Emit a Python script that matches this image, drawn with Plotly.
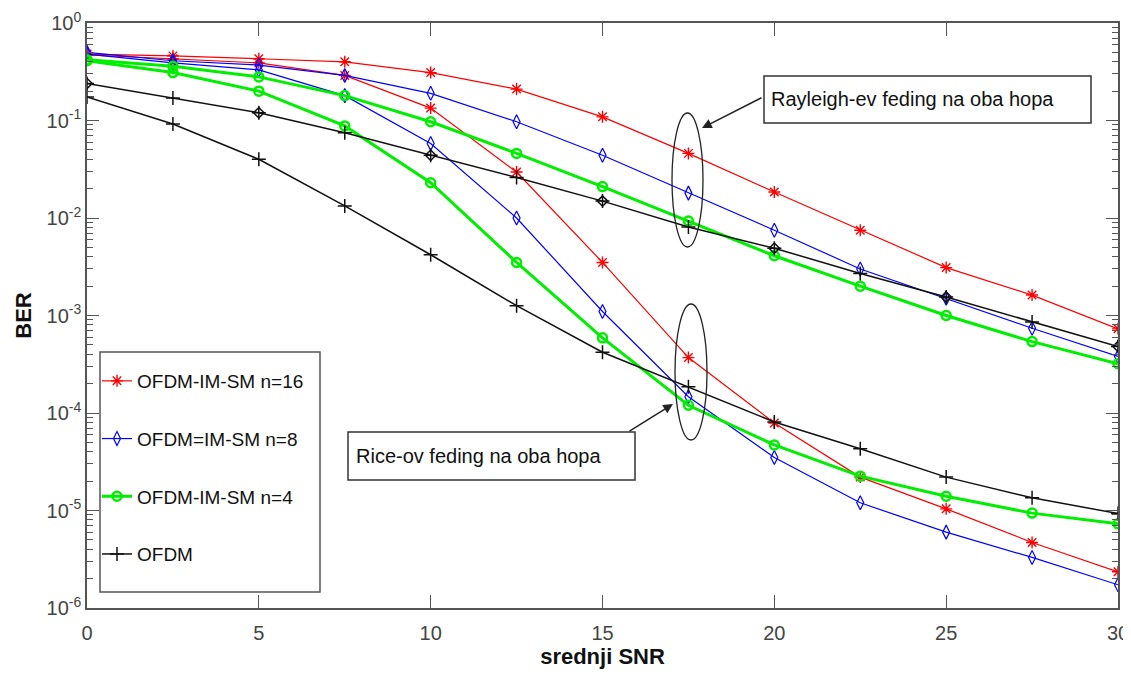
import plotly.graph_objects as go

snr = [0, 2.5, 5, 7.5, 10, 12.5, 15, 17.5, 20, 22.5, 25, 27.5, 30]

# Rayleigh fading on both hops (upper curves)
ray_n16 = [0.48, 0.46, 0.43, 0.40, 0.31, 0.21, 0.109, 0.046, 0.0185, 0.0075, 0.0031, 0.00162, 0.00073]
ray_n8 = [0.50, 0.41, 0.37, 0.29, 0.19, 0.097, 0.044, 0.018, 0.0075, 0.0030, 0.0015, 0.00074, 0.00038]
ray_n4 = [0.42, 0.36, 0.28, 0.18, 0.097, 0.046, 0.021, 0.0093, 0.0041, 0.0020, 0.0010, 0.00054, 0.00032]
ray_ofdm = [0.24, 0.17, 0.12, 0.075, 0.044, 0.026, 0.0149, 0.0081, 0.0049, 0.0027, 0.00155, 0.00086, 0.00048]

# Rice fading on both hops (lower curves)
rice_n16 = [0.47, 0.43, 0.39, 0.29, 0.134, 0.0296, 0.0035, 0.00037, 7.9e-5, 2.2e-5, 1.04e-5, 4.7e-6, 2.35e-6]
rice_n8 = [0.48, 0.39, 0.33, 0.18, 0.058, 0.0100, 0.0011, 0.000147, 3.5e-5, 1.2e-5, 6.0e-6, 3.3e-6, 1.73e-6]
rice_n4 = [0.41, 0.31, 0.20, 0.088, 0.023, 0.0035, 0.00059, 0.00012, 4.7e-5, 2.25e-5, 1.4e-5, 9.4e-6, 7.3e-6]
rice_ofdm = [0.174, 0.092, 0.040, 0.0133, 0.0042, 0.00126, 0.00042, 0.000186, 8.1e-5, 4.3e-5, 2.2e-5, 1.35e-5, 9.3e-6]

names = ["OFDM-IM-SM n=16", "OFDM=IM-SM n=8", "OFDM-IM-SM n=4", "OFDM"]
y_ticks = [1, 0.1, 0.01, 1e-3, 1e-4, 1e-5, 1e-6]
y_ticktext = ["10<sup>0</sup>", "10<sup>-1</sup>", "10<sup>-2</sup>", "10<sup>-3</sup>",
              "10<sup>-4</sup>", "10<sup>-5</sup>", "10<sup>-6</sup>"]
x_ticks = [0, 5, 10, 15, 20, 25, 30]

styles = [
    dict(color="#ff0000", width=1.2, symbol="asterisk-open", size=10, mw=1.4),
    dict(color="#0000ff", width=1.2, symbol="diamond-tall-open", size=10, mw=1.2),
    dict(color="#00ee00", width=3, symbol="circle-open", size=9, mw=2.5),
    dict(color="#111111", width=1.5, symbol="cross-thin-open", size=10, mw=1.5),
]

ray = [ray_n16, ray_n8, ray_n4, ray_ofdm]
rice = [rice_n16, rice_n8, rice_n4, rice_ofdm]

fig = go.Figure()
for i in range(4):
    s = styles[i]
    for series, show in [(ray[i], False), (rice[i], True)]:
        fig.add_trace(go.Scatter(
            x=snr, y=series, mode="lines+markers", name=names[i],
            legendgroup=f"g{i}", showlegend=show,
            line=dict(color=s["color"], width=s["width"]),
            marker=dict(symbol=s["symbol"], size=s["size"], color=s["color"],
                        line=dict(color=s["color"], width=s["mw"])),
        ))
# diamonds on the Rayleigh OFDM curve at every 5 dB
fig.add_trace(go.Scatter(
    x=snr[::2], y=ray_ofdm[::2], mode="markers", showlegend=False,
    marker=dict(symbol="diamond-open", size=8, color="#111111",
                line=dict(color="#111111", width=1.5)),
))

# page body has an 8px margin: the figure starts at (8, 8) on screen
OFF = 8
W, H = 1131 - OFF, 675 - OFF
L, R, T, B = 87, 1118, 23, 608  # plot area in screen pixels


def px(x):
    return (x - L) / (R - L)


def py(y):
    return (B - y) / (B - T)


shapes = [
    dict(type="circle", xref="paper", yref="paper", x0=px(672), x1=px(703), y0=py(247), y1=py(113),
         line=dict(color="#222", width=1.3)),
    dict(type="circle", xref="paper", yref="paper", x0=px(675), x1=px(707), y0=py(440), y1=py(304),
         line=dict(color="#222", width=1.3)),
    dict(type="rect", xref="paper", yref="paper", x0=px(764), x1=px(1091), y0=py(123), y1=py(76),
         line=dict(color="#333", width=1.5), fillcolor="white"),
    dict(type="rect", xref="paper", yref="paper", x0=px(348), x1=px(635), y0=py(480), y1=py(432),
         line=dict(color="#333", width=1.5), fillcolor="white"),
    dict(type="rect", xref="paper", yref="paper", x0=px(100), x1=px(320), y0=py(592), y1=py(352),
         line=dict(color="#555", width=1.5), fillcolor="white", layer="below"),
]

font_fam = "Liberation Sans, Arial, sans-serif"
annotations = [
    dict(xref="paper", yref="paper", x=px(769), y=py(99.5), xanchor="left", yanchor="middle",
         text="Rayleigh-ev feding na oba hopa", showarrow=False,
         font=dict(family=font_fam, size=20, color="#111")),
    dict(xref="paper", yref="paper", x=px(354), y=py(456), xanchor="left", yanchor="middle",
         text="Rice-ov feding na oba hopa", showarrow=False,
         font=dict(family=font_fam, size=20, color="#111")),
    dict(xref="paper", yref="paper", x=px(702), y=py(128), text="", showarrow=True,
         ax=61, ay=-31, arrowhead=2, arrowsize=1.3, arrowwidth=1.5, arrowcolor="#222"),
    dict(xref="paper", yref="paper", x=px(673), y=py(404), text="", showarrow=True,
         ax=-45, ay=28, arrowhead=2, arrowsize=1.3, arrowwidth=1.5, arrowcolor="#222"),
]

minor_y = [m * 10 ** e for e in range(-6, 0) for m in range(2, 10)]

fig.update_layout(
    width=W, height=H,
    margin=dict(l=L - OFF, r=1131 - R, t=T - OFF, b=675 - B),
    paper_bgcolor="white", plot_bgcolor="white",
    font=dict(family=font_fam, color="#444"),
    shapes=shapes, annotations=annotations,
    legend=dict(x=px(97), y=py(362), xanchor="left", yanchor="top",
                bgcolor="rgba(0,0,0,0)", borderwidth=0, tracegroupgap=30,
                font=dict(family=font_fam, size=19, color="#111")),
    xaxis=dict(range=[0, 30], tickvals=x_ticks, ticks="inside", ticklen=13, tickwidth=1.3,
               tickcolor="#555", showline=True, linecolor="#555", linewidth=1.5, mirror="ticks",
               showgrid=False, zeroline=False, automargin=False, ticklabelstandoff=6,
               tickfont=dict(family=font_fam, size=20, color="#444"),
               title=dict(text="<b>srednji SNR</b>", standoff=2,
                          font=dict(family=font_fam, size=22, color="#111"))),
    yaxis=dict(type="log", range=[-6, 0], tickvals=y_ticks, ticktext=y_ticktext,
               ticks="inside", ticklen=12, tickwidth=1.3, tickcolor="#555",
               showline=True, linecolor="#555", linewidth=1.5, mirror="ticks",
               showgrid=False, zeroline=False, automargin=False,
               minor=dict(tickvals=minor_y, ticks="inside", ticklen=6, tickcolor="#555", tickwidth=1),
               tickfont=dict(family=font_fam, size=20, color="#444"),
               title=dict(text="<b>BER</b>", standoff=9,
                          font=dict(family=font_fam, size=22, color="#111"))),
)

fig.write_html("out.html")
